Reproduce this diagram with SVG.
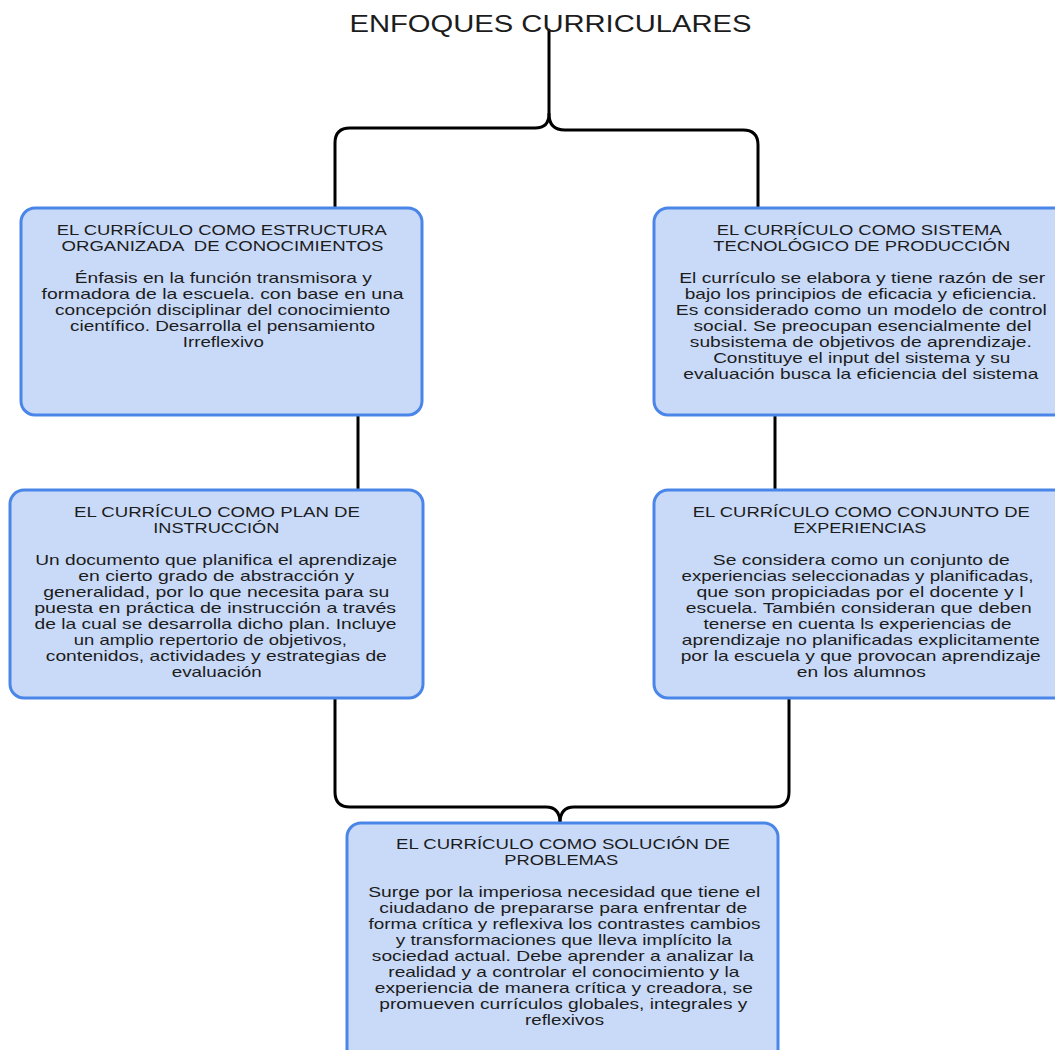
<svg xmlns="http://www.w3.org/2000/svg" width="1055" height="1050" viewBox="0 0 1055 1050">
<style>
.box{fill:#c9daf8;stroke:#4a86e8;stroke-width:3}
.conn{fill:none;stroke:#000;stroke-width:3;stroke-linecap:round}
text{font-family:"Liberation Sans",Arial,sans-serif;fill:#1c1c1c;text-anchor:middle}
.h{font-size:15px}
.b{font-size:14.5px}
.title{font-size:24px}
</style>
<rect width="1055" height="1050" fill="#fff"/>
<g id="connectors">
<path class="conn" d="M549,30 V114 Q549,128 535,128 H350 Q335,128 335,143 V208"/>
<path class="conn" d="M549,114 Q549,130 565,130 H743 Q758,130 758,145 V208"/>
<path class="conn" d="M358,415 V490"/>
<path class="conn" d="M775,415 V490"/>
<path class="conn" d="M335,698 V792 Q335,807 350,807 H546 Q560,807 560,823"/>
<path class="conn" d="M789,698 V792 Q789,807 774,807 H574 Q560,807 560,823"/>
</g>
<g id="title">
<text class="title" x="550.5" y="32" textLength="402" lengthAdjust="spacingAndGlyphs">ENFOQUES CURRICULARES</text>
</g>
<g id="n1">
<rect class="box" x="21" y="208" width="401" height="207" rx="14"/>
<text class="h" x="221.7" y="235" textLength="330" lengthAdjust="spacingAndGlyphs">EL CURRÍCULO COMO ESTRUCTURA</text>
<text class="h" x="222.5" y="251" textLength="322" lengthAdjust="spacingAndGlyphs" xml:space="preserve">ORGANIZADA  DE CONOCIMIENTOS</text>
<text class="b" x="223.3" y="283" textLength="297" lengthAdjust="spacingAndGlyphs">Énfasis en la función transmisora y</text>
<text class="b" x="222.5" y="299" textLength="362" lengthAdjust="spacingAndGlyphs">formadora de la escuela. con base en una</text>
<text class="b" x="222.5" y="315" textLength="335" lengthAdjust="spacingAndGlyphs">concepción disciplinar del conocimiento</text>
<text class="b" x="222.5" y="331" textLength="305" lengthAdjust="spacingAndGlyphs">científico. Desarrolla el pensamiento</text>
<text class="b" x="223.3" y="347" textLength="81" lengthAdjust="spacingAndGlyphs">Irreflexivo</text>
</g>
<g id="n2">
<rect class="box" x="654" y="208" width="414" height="207" rx="14"/>
<text class="h" x="859.2" y="235" textLength="285" lengthAdjust="spacingAndGlyphs">EL CURRÍCULO COMO SISTEMA</text>
<text class="h" x="861.7" y="251" textLength="297" lengthAdjust="spacingAndGlyphs">TECNOLÓGICO DE PRODUCCIÓN</text>
<text class="b" x="862.2" y="283" textLength="366" lengthAdjust="spacingAndGlyphs">El currículo se elabora y tiene razón de ser</text>
<text class="b" x="860.8" y="299" textLength="352" lengthAdjust="spacingAndGlyphs">bajo los principios de eficacia y eficiencia.</text>
<text class="b" x="861.3" y="315" textLength="371" lengthAdjust="spacingAndGlyphs">Es considerado como un modelo de control</text>
<text class="b" x="862.5" y="331" textLength="338" lengthAdjust="spacingAndGlyphs">social. Se preocupan esencialmente del</text>
<text class="b" x="860.8" y="347" textLength="342" lengthAdjust="spacingAndGlyphs">subsistema de objetivos de aprendizaje.</text>
<text class="b" x="861.7" y="363" textLength="297" lengthAdjust="spacingAndGlyphs">Constituye el input del sistema y su</text>
<text class="b" x="860.8" y="379" textLength="355" lengthAdjust="spacingAndGlyphs">evaluación busca la eficiencia del sistema</text>
</g>
<g id="n3">
<rect class="box" x="10" y="490" width="413" height="208" rx="14"/>
<text class="h" x="217" y="517" textLength="286" lengthAdjust="spacingAndGlyphs">EL CURRÍCULO COMO PLAN DE</text>
<text class="h" x="216.3" y="533" textLength="126" lengthAdjust="spacingAndGlyphs">INSTRUCCIÓN</text>
<text class="b" x="216.2" y="565" textLength="362" lengthAdjust="spacingAndGlyphs">Un documento que planifica el aprendizaje</text>
<text class="b" x="216.2" y="581" textLength="276" lengthAdjust="spacingAndGlyphs">en cierto grado de abstracción y</text>
<text class="b" x="216.3" y="597" textLength="346" lengthAdjust="spacingAndGlyphs">generalidad, por lo que necesita para su</text>
<text class="b" x="215.2" y="613" textLength="362" lengthAdjust="spacingAndGlyphs">puesta en práctica de instrucción a través</text>
<text class="b" x="215.5" y="629" textLength="362" lengthAdjust="spacingAndGlyphs">de la cual se desarrolla dicho plan. Incluye</text>
<text class="b" x="210.3" y="645" textLength="273" lengthAdjust="spacingAndGlyphs">un amplio repertorio de objetivos,</text>
<text class="b" x="216.3" y="661" textLength="341" lengthAdjust="spacingAndGlyphs">contenidos, actividades y estrategias de</text>
<text class="b" x="216.7" y="677" textLength="90" lengthAdjust="spacingAndGlyphs">evaluación</text>
</g>
<g id="n4">
<rect class="box" x="654" y="490" width="414" height="208" rx="14"/>
<text class="h" x="861.3" y="517" textLength="337" lengthAdjust="spacingAndGlyphs">EL CURRÍCULO COMO CONJUNTO DE</text>
<text class="h" x="859.7" y="533" textLength="133" lengthAdjust="spacingAndGlyphs">EXPERIENCIAS</text>
<text class="b" x="861.3" y="565" textLength="297" lengthAdjust="spacingAndGlyphs">Se considera como un conjunto de</text>
<text class="b" x="857.5" y="581" textLength="352" lengthAdjust="spacingAndGlyphs">experiencias seleccionadas y planificadas,</text>
<text class="b" x="860" y="597" textLength="327" lengthAdjust="spacingAndGlyphs">que son propiciadas por el docente y l</text>
<text class="b" x="858.8" y="613" textLength="346" lengthAdjust="spacingAndGlyphs">escuela. También consideran que deben</text>
<text class="b" x="857.5" y="629" textLength="308" lengthAdjust="spacingAndGlyphs">tenerse en cuenta ls experiencias de</text>
<text class="b" x="860.8" y="645" textLength="358" lengthAdjust="spacingAndGlyphs">aprendizaje no planificadas explicitamente</text>
<text class="b" x="860.7" y="661" textLength="360" lengthAdjust="spacingAndGlyphs">por la escuela y que provocan aprendizaje</text>
<text class="b" x="861.3" y="677" textLength="129" lengthAdjust="spacingAndGlyphs">en los alumnos</text>
</g>
<g id="n5">
<rect class="box" x="347" y="823" width="431" height="240" rx="14"/>
<text class="h" x="563" y="849" textLength="334" lengthAdjust="spacingAndGlyphs">EL CURRÍCULO COMO SOLUCIÓN DE</text>
<text class="h" x="561.3" y="865" textLength="114" lengthAdjust="spacingAndGlyphs">PROBLEMAS</text>
<text class="b" x="564.2" y="897" textLength="392" lengthAdjust="spacingAndGlyphs">Surge por la imperiosa necesidad que tiene el</text>
<text class="b" x="563.3" y="913" textLength="368" lengthAdjust="spacingAndGlyphs">ciudadano de prepararse para enfrentar de</text>
<text class="b" x="564.5" y="929" textLength="392" lengthAdjust="spacingAndGlyphs">forma crítica y reflexiva los contrastes cambios</text>
<text class="b" x="563.8" y="945" textLength="336" lengthAdjust="spacingAndGlyphs">y transformaciones que lleva implícito la</text>
<text class="b" x="562.8" y="961" textLength="382" lengthAdjust="spacingAndGlyphs">sociedad actual. Debe aprender a analizar la</text>
<text class="b" x="563.8" y="977" textLength="351" lengthAdjust="spacingAndGlyphs">realidad y a controlar el conocimiento y la</text>
<text class="b" x="563.8" y="993" textLength="378" lengthAdjust="spacingAndGlyphs">experiencia de manera crítica y creadora, se</text>
<text class="b" x="563.3" y="1009" textLength="368" lengthAdjust="spacingAndGlyphs">promueven currículos globales, integrales y</text>
<text class="b" x="564.5" y="1025" textLength="79" lengthAdjust="spacingAndGlyphs">reflexivos</text>
</g>
</svg>
